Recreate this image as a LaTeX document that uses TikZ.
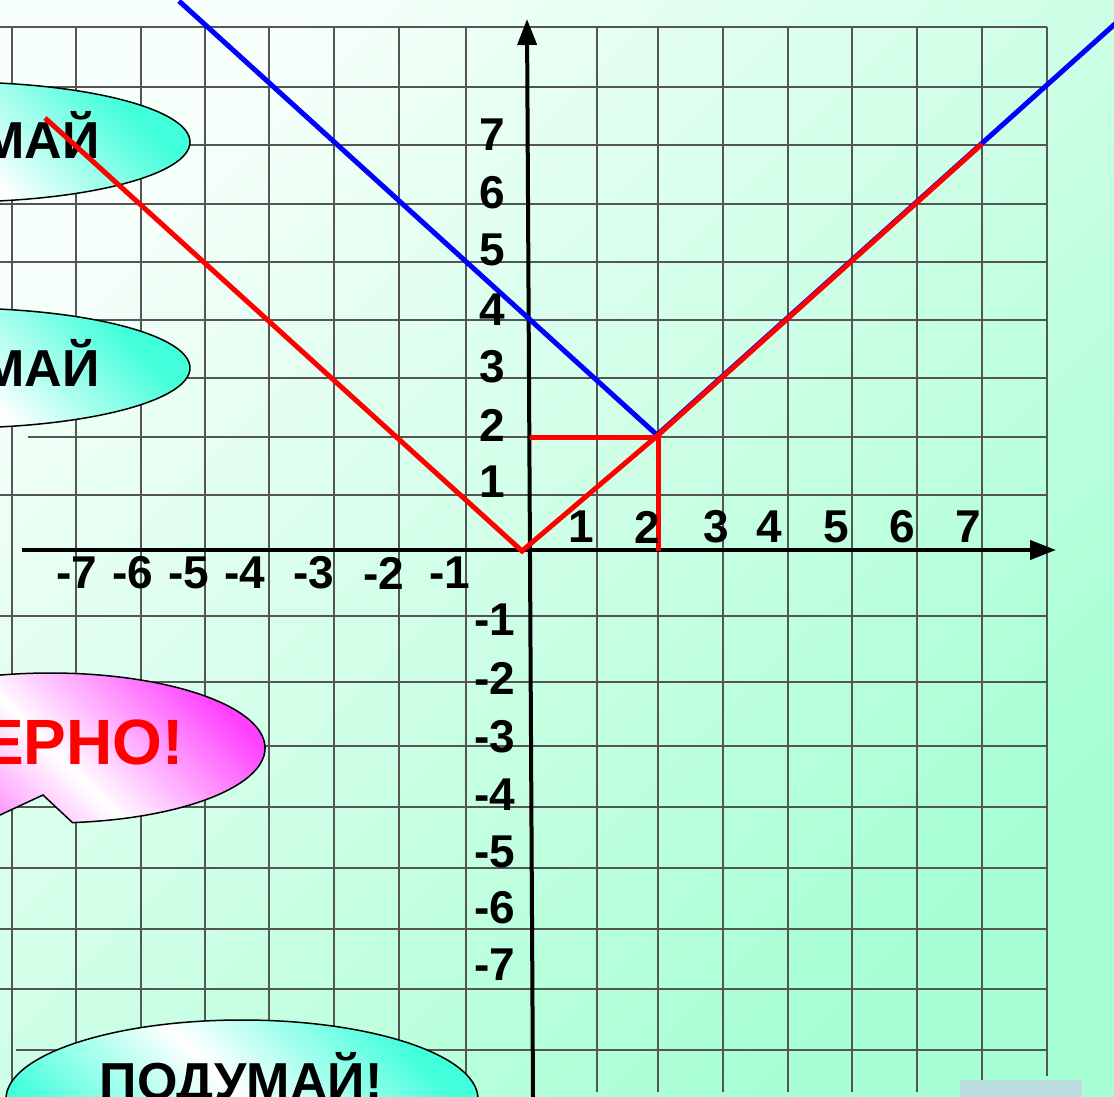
\documentclass[tikz,border=0pt]{standalone}
\usepackage{fontspec}
\setmainfont{Liberation Sans}
\usetikzlibrary{arrows.meta}
\definecolor{gridc}{RGB}{85,85,85}
\definecolor{turq}{RGB}{64,255,218}
\definecolor{mag}{RGB}{255,64,255}
\definecolor{bgA}{RGB}{246,255,250}
\definecolor{bgB}{RGB}{165,255,210}
\definecolor{btn}{RGB}{188,222,224}
\begin{document}
\begin{tikzpicture}[x=1pt,y=-1pt,
  gridline/.style={draw=gridc, line width=2.6pt},
  axisline/.style={draw=black, line width=4pt, -{Triangle[length=26pt,width=19pt]}},
  redline/.style={draw=red, line width=5pt, line join=miter},
  blueline/.style={draw=blue, line width=5pt, line join=miter},
  tick/.style={font=\fontsize{46}{46}\selectfont\bfseries, inner sep=0pt},
  bigtxt/.style={font=\fontsize{52}{52}\selectfont\bfseries, inner sep=0pt},
  bubble/.style={draw=black, line width=1.5pt, top color=turq, bottom color=turq, middle color=white, shading angle=-45},
  pinkbubble/.style={draw=black, line width=1.5pt, top color=mag, bottom color=mag, middle color=white, shading angle=-45}
]
\useasboundingbox (0,0) rectangle (1114,1097);
\clip (0,0) rectangle (1114,1097);
% background
\shade[top color=bgA, bottom color=bgB, shading angle=45] (0,0) rectangle (1114,1097);
% grid
\foreach \y in {27,87,145,204,262,320,378,495,616,682,746,807,868,929,989}
  \draw[gridline] (0,\y) -- (1047,\y);
\draw[gridline] (28,437) -- (1047,437);
\draw[gridline] (16,1050) -- (1047,1050);
\foreach \x in {12,76,141,205,269,334,399,466,597,658,723,788,852,917,982}
  \draw[gridline] (\x,27) -- (\x,1092);
\draw[gridline] (1047,27) -- (1047,1076);
% callouts
\path[bubble] (-45,142) ellipse [x radius=235pt, y radius=60pt];
\node[bigtxt, anchor=base east] (c1) at (100,158) {МАЙ};
\path[bubble] (-45,368) ellipse [x radius=235pt, y radius=60pt];
\node[bigtxt, anchor=base east] (c2) at (100,386) {МАЙ};
\path[pinkbubble] (72.5,822.6) arc [start angle=-84, end angle=200, x radius=215pt, y radius=75pt]
  -- (-40,833.6) -- (43,795) -- cycle;
\node[font=\fontsize{64}{64}\selectfont\bfseries, inner sep=0pt, text=red, anchor=base east] (c3) at (184,764) {ЕРНО!};
\path[bubble] (242,1099) ellipse [x radius=236pt, y radius=79pt];
\node[bigtxt, anchor=base] (c4) at (241,1099) {ПОДУМАЙ!};
% axes
\coordinate (xs) at (22,550);
\coordinate (xe) at (1056,550);
\coordinate (ys) at (533,1097);
\coordinate (ye) at (527,19);
\draw[axisline] (xs) -- (xe);
\draw[axisline] (ys) -- (ye);
% graphs
\draw[blueline] (179,1) -- (657,435) -- (1116,23);
\draw[redline] (45,118) -- (522,551) -- (657,436) -- (982,144);
\draw[redline] (530,437) -- (658,437) -- (658,551);
% tick labels
\foreach \v/\x in {-7/77,-6/133,-5/189,-4/245,-3/314,-2/384,-1/450}
  \node[tick] (xn\v) at (\x,573) {\v};
\foreach \v/\x in {1/581,2/647,3/716,4/769,5/836,6/902,7/968}
  \node[tick] (xp\v) at (\x,527) {\v};
\foreach \v/\y in {7/135,6/193,5/250,4/310,3/367,2/425,1/482}
  \node[tick] (yp\v) at (492,\y) {\v};
\foreach \v/\y in {-1/620,-2/678,-3/737,-4/795,-5/852,-6/908,-7/965}
  \node[tick] (yn\v) at (495,\y) {\v};
% button
\fill[btn] (960,1080) rectangle (1082,1097);
\end{tikzpicture}
\end{document}
